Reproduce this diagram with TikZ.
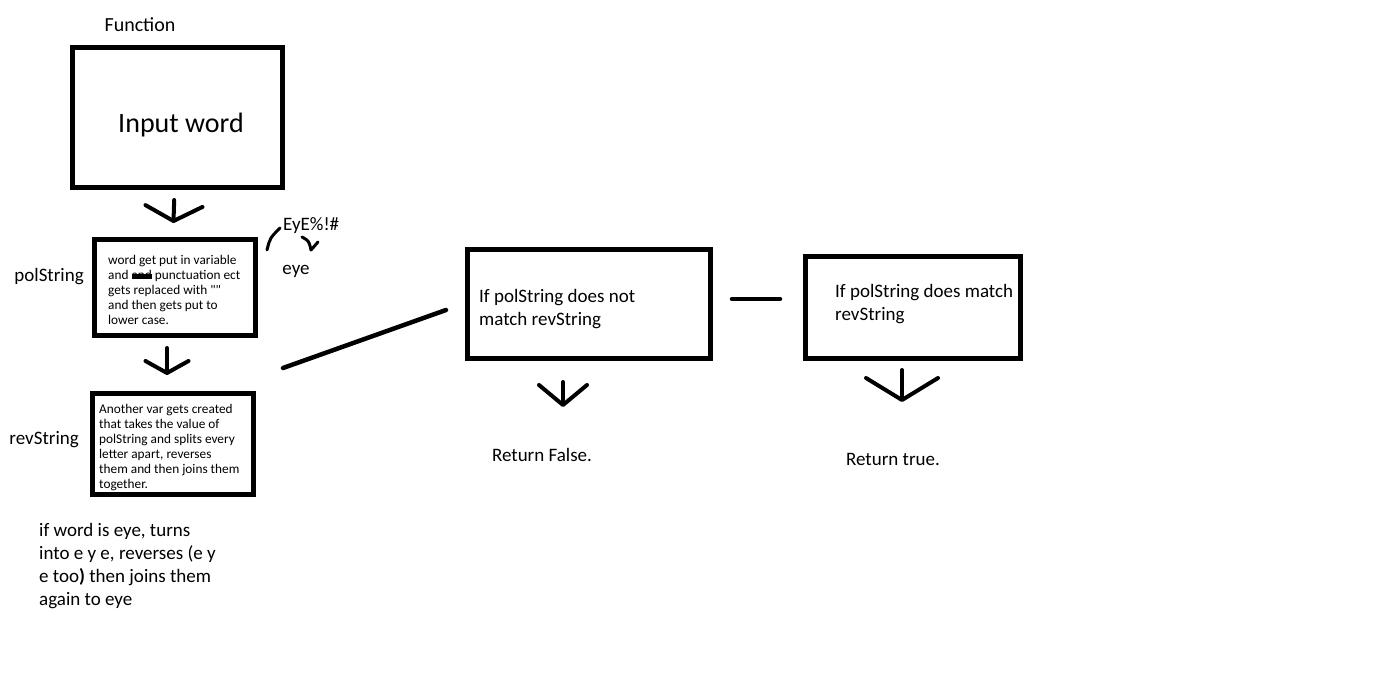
\documentclass[tikz,border=0pt]{standalone}
\usepackage{fontspec}
\setmainfont{Carlito}
\usetikzlibrary{arrows.meta,positioning}

% blacked-out word, as scribbled over in the sketch
\newcommand{\scribbled}[1]{\leavevmode\setbox0=\hbox{#1}\rlap{\copy0}\rule[0.15ex]{\wd0}{0.8ex}}

\begin{document}
\begin{tikzpicture}[x=1pt, y=-1pt,
    box/.style={rectangle, draw, line width=5pt, inner sep=0pt},
    note/.style={font=\fontsize{13.3}{15}\selectfont, align=left, inner sep=0pt, anchor=west},
    big/.style={font=\fontsize{19}{23}\selectfont, align=left, inner sep=0pt, anchor=west},
    txt/.style={font=\fontsize{19}{23}\selectfont, inner sep=0pt},
    pen/.style={line width=4.5pt, line cap=round},
    handarrow/.style={line width=4pt, line cap=round}]

    \fill[white] (0,0) rectangle (1389,675);
    \useasboundingbox (0,0) rectangle (1389,675);

    % Boxes
    \node [box, minimum width=210pt, minimum height=140pt] (input) at (177.5,117.5) {};
    \node [box, minimum width=161pt, minimum height=96pt] (pol) at (175,287.5) {};
    \node [box, minimum width=161pt, minimum height=101pt] (rev) at (173,444) {};
    \node [box, minimum width=243pt, minimum height=109pt] (nomatch) at (589,304) {};
    \node [box, minimum width=215pt, minimum height=102pt] (match) at (913,307.5) {};

    % Text inside the boxes
    \node [txt, font=\fontsize{28}{34}\selectfont, yshift=-8pt, xshift=3.5pt] (inputtext) at (input) {Input word};
    \node [note, xshift=16pt, yshift=-2.5pt] (poltext) at (pol.west)
        {word get put in variable\\
         and \scribbled{and} punctuation ect\\
         gets replaced with \textquotedbl\textquotedbl\\
         and then gets put to\\
         lower case.};
    \node [note, xshift=9pt, yshift=-3.5pt] (revtext) at (rev.west)
        {Another var gets created\\
         that takes the value of\\
         polString and splits every\\
         letter apart, reverses\\
         them and then joins them\\
         together.};
    \node [big, xshift=14pt, yshift=-5.5pt] (nomatchtext) at (nomatch.west)
        {If polString does not\\
         match revString};
    \node [big, xshift=32pt, yshift=3pt] (matchtext) at (match.west)
        {If polString does match\\
         revString};

    % Labels
    \node [txt, font=\fontsize{20}{23}\selectfont] (fnlabel) at (140,25) {Function};
    \node [txt, left=8pt of pol, yshift=10.5pt] (pollabel) {polString};
    \node [txt, left=11pt of rev, yshift=4pt] (revlabel) {revString};
    \node [txt, anchor=west] (symbols) at (283,226) {EyE\%!\#};
    \node [txt] (lower) at (296,271) {eye};
    \node [txt] (retfalse) at (542,455) {Return False.};
    \node [txt] (rettrue) at (893,459) {Return true.};
    \node [txt, align=left, anchor=north west] (example) at (39,523)
        {if word is eye, turns\\
         into e y e, reverses (e y\\
         e too\textbf{)} then joins them\\
         again to eye};

    % Hand drawn arrows
    \draw [handarrow, shorten <=10pt, shorten >=14pt, -{Straight Barb[length=15pt, width=57pt, round]}]
        ([xshift=-3pt]input.south) -- ([xshift=-2pt]pol.north);
    \draw [handarrow, shorten <=10pt, shorten >=16pt, -{Straight Barb[length=12pt, width=43pt, round]}]
        ([xshift=-8pt]pol.south) -- ([xshift=-6pt]rev.north);
    \draw [handarrow, -{Straight Barb[length=20pt, width=48pt, round]}]
        ([xshift=-26pt, yshift=-21pt]nomatch.south) -- ++(0pt,-25pt);
    \draw [handarrow, -{Straight Barb[length=22pt, width=72pt, round]}]
        ([xshift=-11pt, yshift=-9pt]match.south) -- ++(0pt,-32pt);

    % Connecting strokes
    \draw [pen] ([shift={(27pt,23pt)}]rev.north east) -- ([shift={(-19pt,-6pt)}]nomatch.west);
    \draw [pen] ([shift={(19pt,5pt)}]nomatch.east) -- ([shift={(-23pt,8.5pt)}]match.west);

    % Small marks next to the symbols
    \draw [line width=3pt, line cap=round] (267,250) .. controls (270,238) .. (280,228);
    \draw [line width=3pt, line cap=round, line join=round]
        (302,237) .. controls (309,241) .. (311,250) -- (318,242);
\end{tikzpicture}
\end{document}
